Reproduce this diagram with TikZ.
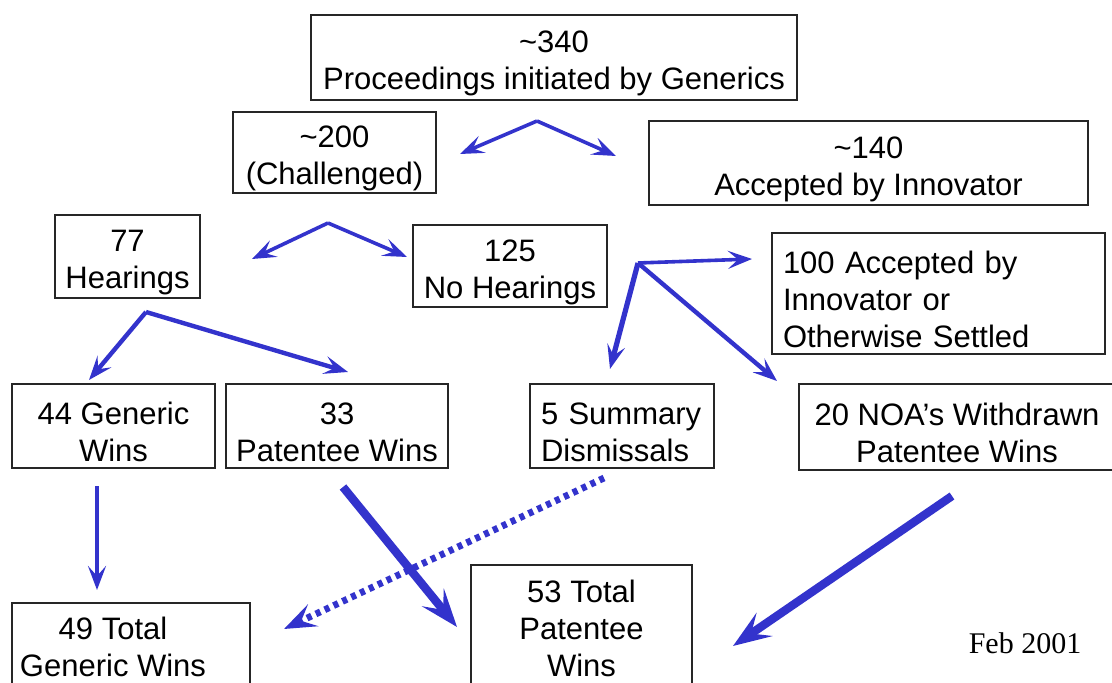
\documentclass[tikz,border=0pt]{standalone}
\usepackage{fontspec}
\setmainfont{Liberation Sans}
\newfontfamily\datefont{Liberation Serif}
\usetikzlibrary{arrows.meta}
\definecolor{flowblue}{RGB}{51,51,204}
\newcommand\topline{\rule{0pt}{17pt}}

\begin{document}
\begin{tikzpicture}[
		x=0.5pt, y=-0.5pt,
		box/.style={draw=black!85, line width=0.8pt, inner sep=0pt, align=center,
			font=\fontsize{15.5}{18.5}\selectfont},
		lbox/.style={box, align=left, inner xsep=5.5pt},
		flow/.style={flowblue, line width=1.8pt, -{Stealth[length=12pt, width=9pt, inset=5pt]}},
		bigflow/.style={flowblue, line width=4.2pt, -{Stealth[length=19pt, width=14pt, inset=8pt]}},
		dotflow/.style={flowblue, line width=3.4pt, dash pattern=on 2.5pt off 2.4pt, -{Stealth[length=16pt, width=12pt, inset=6.5pt]}},
	]
	\useasboundingbox (0,0) rectangle (1112,683);
	\clip (0,0) rectangle (1112,683);

	\node[box, minimum width=243pt, minimum height=42.5pt] (total) at (554,57.5) {\topline\textasciitilde340\\Proceedings initiated by Generics};
	\node[box, minimum width=101.5pt, minimum height=40.5pt] (chal) at (334.5,152.5) {\topline\textasciitilde200\\(Challenged)};
	\node[box, minimum width=219.5pt, minimum height=42pt] (acc) at (868.5,163) {\topline\textasciitilde140\\Accepted by Innovator};

	\node[box, minimum width=72.5pt, minimum height=41.5pt] (hear) at (127.5,256.5) {\topline77\\Hearings};
	\node[box, minimum width=97pt, minimum height=41pt] (nohear) at (510,266) {\topline125\\No Hearings};
	\node[lbox, text width=155.5pt, minimum height=60.5pt] (settled) at (938.5,293.5) {\topline100 Accepted by\\Innovator or\\Otherwise Settled};

	\node[box, minimum width=101.5pt, minimum height=42pt] (gwin) at (113.5,426) {\topline44 Generic\\Wins};
	\node[box, minimum width=111pt, minimum height=42pt] (pwin) at (337,426) {\topline33\\Patentee Wins};
	\node[lbox, text width=81pt, minimum height=42pt] (summ) at (622,426) {\topline5 Summary\\Dismissals};
	\node[box, minimum width=158pt, minimum height=43pt] (noa) at (957,427) {\topline20 NOA’s Withdrawn\\Patentee Wins};

	\node[box, anchor=north, minimum width=119pt, inner ysep=7pt] (gtot) at (131,602) {49 Total\hspace*{18pt}\\Generic Wins\hspace*{18pt}};
	\node[box, anchor=north, minimum width=110.5pt, inner ysep=7.5pt] (ptot) at (581.5,564) {53 Total\\Patentee\\Wins};

	\node[font=\datefont\fontsize{15}{18}\selectfont] (date) at (1025,643) {Feb 2001};

	% forks
	\coordinate (split1) at (537,121);
	\coordinate (split1l) at (460,154);
	\coordinate (split1r) at (616,156);
	\draw[flow] (split1) -- (split1l);
	\draw[flow] (split1) -- (split1r);

	\coordinate (split2) at (328,223);
	\coordinate (split2l) at (252,259);
	\coordinate (split2r) at (407,257);
	\draw[flow] (split2) -- (split2l);
	\draw[flow] (split2) -- (split2r);

	\coordinate (split3) at (146,312);
	\coordinate (split3l) at (89,380);
	\coordinate (split3r) at (348,372);
	\draw[flow, line width=2.2pt] (split3) -- (split3l);
	\draw[flow, line width=2.2pt] (split3) -- (split3r);

	\coordinate (split4) at (638,263);
	\coordinate (split4r) at (752,259);
	\coordinate (split4d) at (610,369);
	\coordinate (split4s) at (777,381);
	\draw[flow] (split4) -- (split4r);
	\draw[flow, line width=2.6pt] (split4) -- (split4d);
	\draw[flow, line width=2.2pt] (split4) -- (split4s);

	% totals
	\coordinate (gwinout) at (97,486);
	\coordinate (gtotin) at (97,590);
	\draw[flow, line width=2pt] (gwinout) -- (gtotin);

	\coordinate (pwinout) at (343,487);
	\coordinate (ptotin) at (457,627);
	\draw[bigflow] (pwinout) -- (ptotin);

	\coordinate (summout) at (604,478);
	\coordinate (gtotin2) at (284,629);
	\draw[dotflow] (summout) -- (gtotin2);

	\coordinate (noaout) at (952,496);
	\coordinate (ptotin2) at (733,646);
	\draw[bigflow] (noaout) -- (ptotin2);
\end{tikzpicture}
\end{document}
